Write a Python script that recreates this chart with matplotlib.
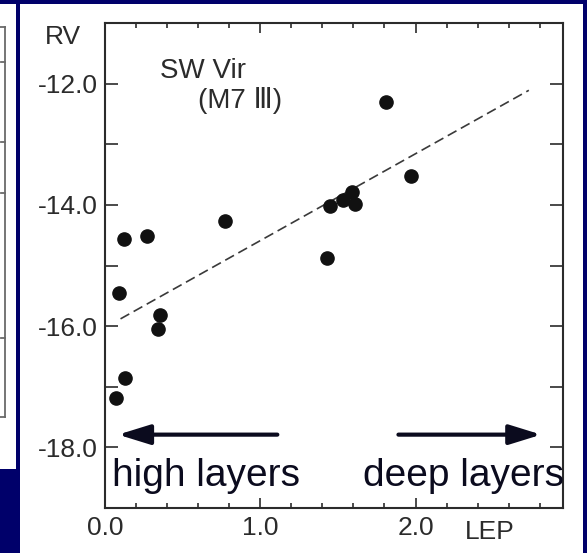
import numpy as np
import matplotlib.pyplot as plt
from matplotlib.patches import Rectangle
from matplotlib.lines import Line2D
from matplotlib.ticker import MultipleLocator, FixedLocator

# measured points, SW Vir (M7 III)
lep = [0.07, 0.13, 0.09, 0.12, 0.27, 0.355, 0.34, 0.77, 1.43, 1.45, 1.53, 1.59, 1.61, 1.81, 1.97]
rv = [-17.18, -16.85, -15.45, -14.56, -14.52, -15.82, -16.05, -14.26, -14.88, -14.02, -13.92,
      -13.79, -13.99, -12.31, -13.53]

# dashed fit line
fit_x = [0.10, 2.73]
fit_y = [-15.88, -12.11]

yticks = [-12, -14, -16, -18]
ytick_labels = ["-12.0", "-14.0", "-16.0", "-18.0"]
xticks = [0, 1, 2]
xtick_labels = ["0.0", "1.0", "2.0"]

W, H = 587, 553
navy = "#00006a"
ink = "#2b2b2b"
dark = "#0b0b1e"


def fx(px):
    return px / W


def fy(py):
    # pixel from the top -> figure fraction
    return 1 - py / H


fig = plt.figure(figsize=(W / 100, H / 100), dpi=100)
fig.patch.set_facecolor(navy)

# white panels (slide background)
fig.patches.append(Rectangle((fx(20), 0), fx(563), fy(4), transform=fig.transFigure,
                             facecolor="white", edgecolor="none", zorder=-5))
fig.patches.append(Rectangle((0, fy(469)), fx(16), fy(4) - fy(469), transform=fig.transFigure,
                             facecolor="white", edgecolor="none", zorder=-5))

# remains of the neighbouring panel on the left
lc = "#6a6a6a"
fig.lines.append(Line2D([fx(5), fx(5)], [fy(27), fy(417)], transform=fig.transFigure, color=lc, lw=1.3))
for yy in [27, 417]:
    fig.lines.append(Line2D([0, fx(5)], [fy(yy), fy(yy)], transform=fig.transFigure, color=lc, lw=1.3))
for yy in [62, 142, 193, 338]:
    fig.lines.append(Line2D([fx(1), fx(5)], [fy(yy), fy(yy)], transform=fig.transFigure, color=lc, lw=1.3))

ax = fig.add_axes([fx(105), fy(508), fx(563) - fx(105), fy(23) - fy(508)])
ax.set_facecolor("none")
ax.set_zorder(2)

ax.plot(fit_x, fit_y, color="#3a3a3a", lw=1.2, dashes=(6, 3))
ax.plot(lep, rv, "o", color="#111111", markersize=9.5, zorder=3)

ax.set_xlim(0, 2.95)
ax.set_ylim(-19, -11)

ax.xaxis.set_major_locator(FixedLocator(xticks))
ax.set_xticklabels(xtick_labels)
ax.xaxis.set_minor_locator(MultipleLocator(0.2))
ax.yaxis.set_major_locator(FixedLocator(yticks))
ax.set_yticklabels(ytick_labels)
ax.yaxis.set_minor_locator(MultipleLocator(1.0))

ax.tick_params(axis="both", which="both", direction="in", top=True, right=True, color=ink)
ax.tick_params(axis="x", which="major", length=7, width=1.2, pad=6)
ax.tick_params(axis="x", which="minor", length=3.6, width=1.2)
ax.tick_params(axis="y", which="both", length=9.4, width=1.2, pad=5)
for lab in ax.get_xticklabels() + ax.get_yticklabels():
    lab.set_fontfamily("Liberation Sans")
    lab.set_fontsize(19)
    lab.set_color(ink)

for sp in ax.spines.values():
    sp.set_color(ink)
    sp.set_linewidth(1.5)

font = dict(family=["Liberation Sans", "DejaVu Sans"], color=ink)
fig.text(fx(63), fy(37), "RV", fontsize=19, ha="center", va="center", **font)
fig.text(fx(490), fy(532), "LEP", fontsize=19, ha="center", va="center", **font)
ax.text(0.355, -11.79, "SW Vir", fontsize=20, ha="left", va="center", **font)
ax.text(0.60, -12.28, "(M7 \u2162)", fontsize=20, ha="left", va="center", **font)

# overlay annotations
arrow_y = -17.79
for x0, x1 in [(1.11, 0.084), (1.89, 2.81)]:
    ax.annotate("", xy=(x1, arrow_y), xytext=(x0, arrow_y),
                arrowprops=dict(arrowstyle="-|>,head_length=0.97,head_width=0.3",
                                color=dark, lw=3, mutation_scale=20,
                                shrinkA=0, shrinkB=0),
                annotation_clip=False, zorder=5)

ax.text(0.045, -18.64, "high layers", fontsize=28, color=dark, family="Liberation Sans",
        ha="left", va="baseline", clip_on=False, zorder=5)
ax.text(1.665, -18.64, "deep layers", fontsize=28, color=dark, family="Liberation Sans",
        ha="left", va="baseline", clip_on=False, zorder=5)

fig.savefig("out.png", dpi=100, facecolor=fig.get_facecolor())
